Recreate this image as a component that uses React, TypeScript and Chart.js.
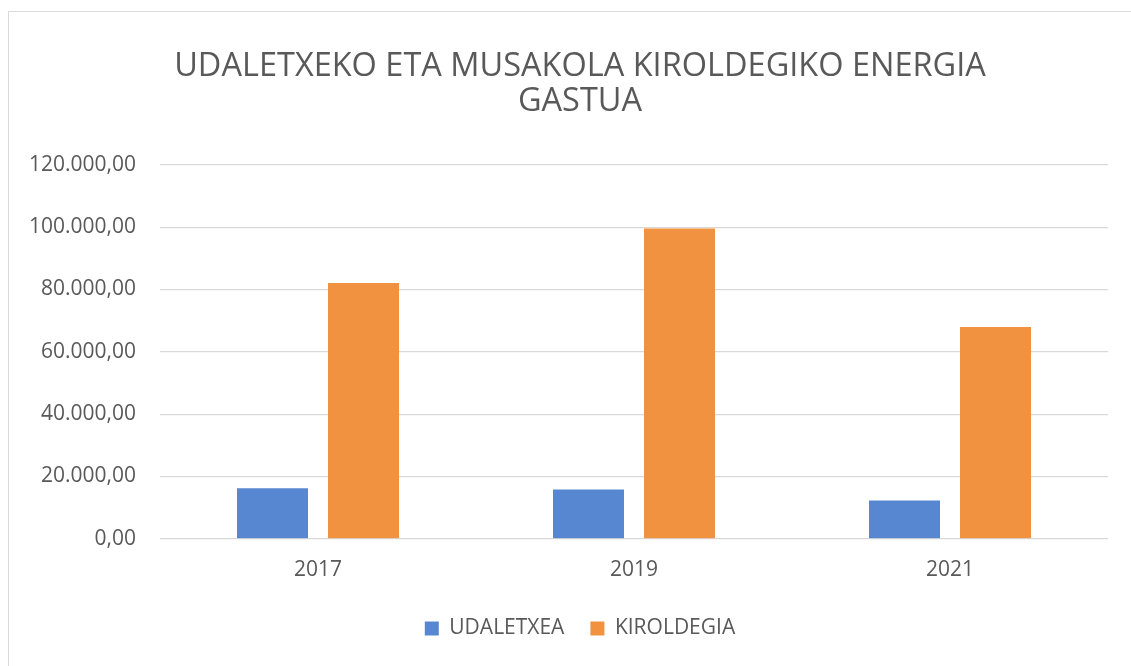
import React, { useEffect, useRef } from "react";
import { Chart, registerables } from "chart.js";

Chart.register(...registerables);

const categories = ["2017", "2019", "2021"];
const udaletxea = [16200, 15800, 12300];
const kiroldegia = [82100, 99600, 68000];
const titleLines = ["UDALETXEKO ETA MUSAKOLA KIROLDEGIKO ENERGIA", "GASTUA"];
const seriesNames = ["UDALETXEA", "KIROLDEGIA"];

function fmt(v: number): string {
  const int = Math.round(v).toString().replace(/\B(?=(\d{3})+(?!\d))/g, ".");
  return int + ",00";
}

const widenLabelClip = {
  id: "widenLabelClip",
  afterLayout(chart: any) {
    const y = chart.scales.y;
    if (y) y.left = 0;
  },
};

export default function App() {
  const ref = useRef<HTMLCanvasElement | null>(null);
  useEffect(() => {
    if (!ref.current) return;
    const font = "'Open Sans', sans-serif";
    const chart = new Chart(ref.current, {
      type: "bar",
      data: {
        labels: categories,
        datasets: [
          { label: seriesNames[0], data: udaletxea, backgroundColor: "#5687d0" },
          { label: seriesNames[1], data: kiroldegia, backgroundColor: "#f19241" },
        ],
      },
      plugins: [widenLabelClip],
      options: {
        animation: false,
        responsive: false,
        datasets: { bar: { categoryPercentage: 0.576, barPercentage: 0.78 } },
        layout: { padding: { left: 43, right: 44, top: 0, bottom: 18 } },
        plugins: {
          title: {
            display: true,
            text: titleLines,
            color: "#595959",
            font: { family: font, size: 32.5, weight: "normal", lineHeight: 1.09 },
            padding: { top: 37, bottom: 45 },
          },
          legend: {
            position: "bottom",
            labels: {
              color: "#595959",
              font: { family: font, size: 21 },
              boxWidth: 14,
              boxHeight: 14,
              padding: 26,
            },
          },
          tooltip: { enabled: false },
        },
        scales: {
          x: {
            grid: { display: false, drawTicks: true, tickLength: 10 },
            border: { display: false },
            ticks: { color: "#595959", font: { family: font, size: 21 }, padding: 9 },
          },
          y: {
            min: 0,
            max: 120000,
            grid: { color: "#d9d9d9", lineWidth: 1.3, drawTicks: false },
            border: { display: false },
            afterFit: (scale: any) => {
              scale.width = 108;
            },
            ticks: {
              stepSize: 20000,
              color: "#595959",
              font: { family: font, size: 21 },
              padding: 24,
              callback: (v: any) => fmt(Number(v)),
            },
          },
        },
      },
    });
    return () => chart.destroy();
  }, []);
  return (
    <div
      style={{
        position: "fixed",
        top: 11,
        left: 8,
        width: 1160,
        height: 700,
        border: "1px solid #d9d9d9",
        background: "#fff",
      }}
    >
      <canvas ref={ref} width={1143} height={655} style={{ display: "block" }} />
    </div>
  );
}
